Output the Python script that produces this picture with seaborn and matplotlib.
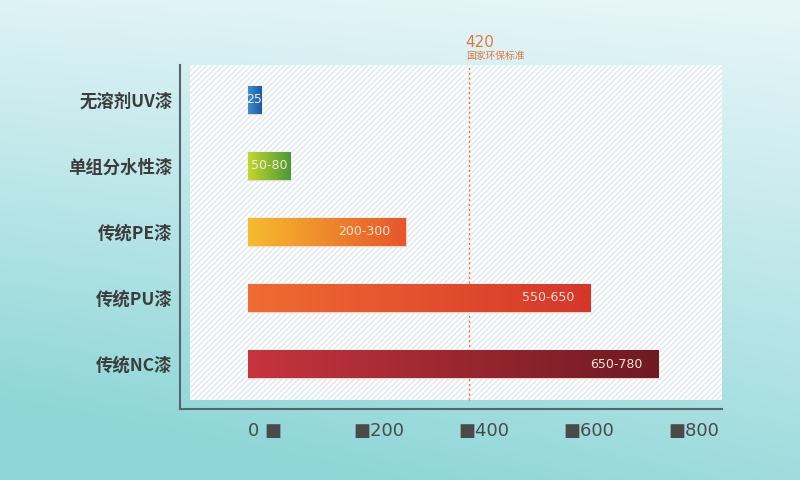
import numpy as np
import pandas as pd
import seaborn as sns
import matplotlib.pyplot as plt
from matplotlib.patches import Rectangle
from matplotlib.colors import LinearSegmentedColormap, to_rgb

# data
categories = ['无溶剂UV漆', '单组分水性漆', '传统PE漆', '传统PU漆', '传统NC漆']
upper_values = [25, 80, 300, 650, 780]
range_labels = ['25', '50-80', '200-300', '550-650', '650-780']
standard_value = 420
standard_label = '国家环保标准'
x_ticks = [0, 200, 400, 600, 800]
x_tick_labels = ['0 ■', '■200', '■400', '■600', '■800']

# left / right colour of each bar gradient
bar_colors = [('#3b8dd2', '#1c5aa4'),
              ('#c2d82a', '#4c9838'),
              ('#f6bc2e', '#e8552a'),
              ('#f06c32', '#d6362a'),
              ('#c7343e', '#6e1a22')]

sns.set_theme(style='white')
plt.rcParams['font.family'] = ['Noto Sans CJK SC', 'DejaVu Sans']

df = pd.DataFrame({'category': categories, 'value': upper_values})

fig = plt.figure(figsize=(8, 4.8), dpi=100)

# figure background gradient (light top, teal bottom)
bg = fig.add_axes([0, 0, 1, 1], zorder=-5)
yy, xx = np.mgrid[0:1:200j, 0:1:200j]
t = np.clip(0.8 * yy + 0.25 * (1 - xx) * yy + 0.1 * (1 - xx), 0, 1)
top, bot = np.array(to_rgb('#e8f6f9')), np.array(to_rgb('#8ed6d7'))
bg.imshow(top + (bot - top) * t[..., None], extent=[0, 1, 0, 1], aspect='auto')
bg.axis('off')

ax = fig.add_axes([0.225, 0.148, 0.6775, 0.717])
ax.set_facecolor('none')

# hatched white panel
panel = Rectangle((0.018, 0.026), 1.0, 1.0, transform=ax.transAxes,
                  facecolor='white', edgecolor='#dde9ee', hatch='//////',
                  linewidth=0, zorder=0, clip_on=True)
ax.add_patch(panel)

sns.barplot(data=df, x='value', y='category', orient='h', width=0.42,
            ax=ax, color='white', edgecolor='#f2d4cc', linewidth=1, zorder=2)

grad = np.linspace(0, 1, 256).reshape(1, -1)
for patch, (c1, c2), lab, v in zip(ax.patches[1:], bar_colors, range_labels, upper_values):
    x0, y0 = patch.get_x(), patch.get_y()
    w, h = patch.get_width(), patch.get_height()
    cmap = LinearSegmentedColormap.from_list('g', [c1, c2])
    im = ax.imshow(grad, cmap=cmap, extent=[x0, x0 + w, y0 + h, y0],
                   aspect='auto', zorder=3)
    im.set_clip_path(patch)
    if v < 100:
        ax.text(x0 + w / 2, y0 + h / 2, lab, ha='center', va='center',
                color='#f3ecd8', fontsize=9, family='DejaVu Sans', zorder=4)
    else:
        ax.text(x0 + w - 30, y0 + h / 2, lab, ha='right', va='center',
                color='#f3e6d8', fontsize=9, family='DejaVu Sans', zorder=4)

# national standard line
ax.axvline(standard_value, ymin=0.026, ymax=1.0, color='#e8743c',
           linestyle=(0, (1.5, 2)), linewidth=1, zorder=1.5)
ax.text(standard_value - 6, -0.75, str(standard_value), color='#e07a3a',
        fontsize=11, family='DejaVu Sans', ha='left', va='bottom', clip_on=False)
ax.text(standard_value - 6, -0.59, standard_label, color='#e07a3a',
        fontsize=7, ha='left', va='bottom', clip_on=False)

ax.set_xlim(-129, 901)
ax.set_ylim(4.68, -0.53)
ax.set_xticks(x_ticks)
ax.set_xticklabels(x_tick_labels, ha='left', fontsize=13, color='#4a4a4a',
                   family='DejaVu Sans')
ax.set_yticks(range(len(categories)))
ax.set_yticklabels(categories, fontsize=12.5, fontweight='bold', color='#3c3c3c')
ax.set_xlabel('')
ax.set_ylabel('')
ax.tick_params(axis='x', length=3, width=3, color='#2c3a40', pad=8,
               direction='inout')
ax.tick_params(axis='y', length=3, width=3, color='#2c3a40', pad=4,
               direction='inout')
for s in ['top', 'right']:
    ax.spines[s].set_visible(False)
for s in ['left', 'bottom']:
    ax.spines[s].set_color('#56666c')
    ax.spines[s].set_linewidth(1.5)

fig.savefig('out.png', dpi=100)
